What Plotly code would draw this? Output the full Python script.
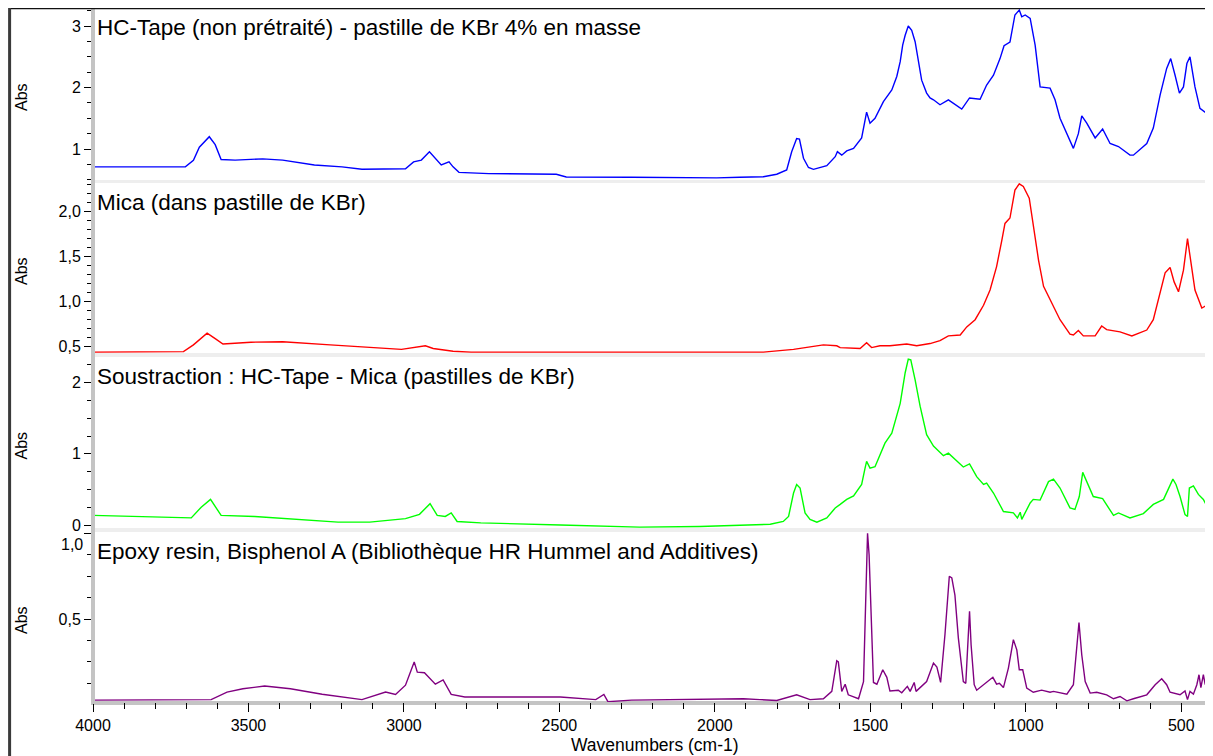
import plotly.graph_objects as go

# ---------------- data ----------------
wn_tape = [4000, 3837, 3703, 3677, 3658, 3626, 3607, 3588, 3543, 3454, 3390, 3288, 3199, 3135,
           2995, 2969, 2944, 2918, 2899, 2880, 2855, 2842, 2823, 2727, 2510, 2478, 2268, 2048,
           1994, 1920, 1844, 1801, 1769, 1753, 1737, 1728, 1715, 1699, 1683, 1640, 1613, 1606,
           1592, 1576, 1554, 1528, 1517, 1512, 1501, 1485, 1458, 1431, 1415, 1404, 1396, 1388,
           1378, 1367, 1356, 1345, 1335, 1319, 1308, 1297, 1276, 1249, 1206, 1181, 1147, 1126,
           1104, 1083, 1070, 1051, 1035, 1021, 1013, 1002, 986, 970, 963, 954, 922, 906, 890,
           868, 847, 831, 820, 804, 777, 753, 729, 702, 665, 654, 611, 590, 568, 547, 534, 520,
           506, 493, 482, 472, 456, 440, 418, 410, 398]
abs_tape = [0.71, 0.71, 0.71, 0.815, 1.03, 1.20, 1.07, 0.83, 0.82, 0.84, 0.82, 0.74, 0.71, 0.67,
            0.68, 0.79, 0.82, 0.955, 0.85, 0.74, 0.79, 0.71, 0.62, 0.60, 0.59, 0.545, 0.54, 0.53,
            0.53, 0.54, 0.55, 0.59, 0.66, 0.956, 1.17, 1.16, 0.85, 0.70, 0.67, 0.73, 0.875, 0.956,
            0.90, 0.97, 1.01, 1.18, 1.50, 1.60, 1.42, 1.50, 1.77, 1.96, 2.18, 2.42, 2.69, 2.85,
            3.00, 2.93, 2.745, 2.39, 2.12, 1.91, 1.83, 1.80, 1.72, 1.80, 1.65, 1.83, 1.81, 2.04,
            2.20, 2.47, 2.68, 2.74, 3.18, 3.26, 3.15, 3.18, 3.125, 2.69, 2.37, 2.01, 1.99, 1.80,
            1.50, 1.25, 1.01, 1.25, 1.54, 1.42, 1.18, 1.325, 1.09, 1.04, 0.90, 0.90, 1.09, 1.34,
            1.88, 2.31, 2.47, 2.20, 1.91, 2.01, 2.39, 2.50, 2.01, 1.66, 1.58, 1.71, 1.45]

wn_mica = [4000, 3709, 3677, 3633, 3607, 3582, 3492, 3390, 3237, 3008, 2931, 2906, 2842, 2784,
           2048, 1844, 1747, 1651, 1608, 1597, 1533, 1512, 1496, 1469, 1437, 1383, 1351, 1308,
           1276, 1249, 1211, 1190, 1163, 1136, 1115, 1094, 1077, 1067, 1051, 1035, 1021, 1008,
           989, 976, 959, 943, 922, 890, 858, 847, 831, 815, 777, 756, 740, 697, 659, 611, 590,
           568, 552, 536, 523, 509, 493, 480, 470, 456, 434, 418, 407, 398]
abs_mica = [0.44, 0.445, 0.52, 0.65, 0.59, 0.53, 0.55, 0.555, 0.52, 0.47, 0.51, 0.48, 0.45, 0.44,
            0.44, 0.44, 0.47, 0.52, 0.51, 0.49, 0.48, 0.545, 0.49, 0.51, 0.51, 0.53, 0.51, 0.535,
            0.567, 0.62, 0.63, 0.72, 0.80, 0.96, 1.13, 1.39, 1.685, 1.87, 1.93, 2.24, 2.31, 2.28,
            2.15, 1.87, 1.46, 1.17, 1.02, 0.80, 0.64, 0.63, 0.68, 0.62, 0.62, 0.73, 0.69, 0.665,
            0.62, 0.685, 0.80, 1.09, 1.32, 1.38, 1.22, 1.11, 1.35, 1.70, 1.46, 1.13, 0.93, 0.96,
            1.05, 0.90]

wn_sub = [4000, 3684, 3652, 3622, 3588, 3480, 3212, 3110, 2995, 2950, 2916, 2893, 2867, 2848,
          2829, 2753, 2497, 2242, 2048, 1881, 1822, 1780, 1763, 1747, 1737, 1726, 1710, 1694,
          1672, 1640, 1613, 1597, 1576, 1554, 1528, 1517, 1512, 1501, 1485, 1453, 1431, 1404,
          1388, 1378, 1370, 1356, 1340, 1319, 1297, 1265, 1249, 1201, 1181, 1158, 1136, 1126,
          1104, 1072, 1040, 1027, 1018, 1013, 1002, 986, 976, 954, 927, 911, 890, 858, 842, 828,
          817, 804, 783, 753, 718, 702, 665, 622, 590, 557, 527, 517, 504, 488, 480, 474, 461,
          445, 429, 418, 410, 402, 398]
abs_sub = [0.135, 0.10, 0.25, 0.36, 0.135, 0.12, 0.04, 0.04, 0.09, 0.15, 0.30, 0.135, 0.12, 0.17,
           0.05, 0.03, 0.0, -0.03, -0.02, 0.0, 0.01, 0.05, 0.12, 0.45, 0.57, 0.52, 0.17, 0.08,
           0.04, 0.10, 0.24, 0.29, 0.36, 0.41, 0.57, 0.80, 0.895, 0.80, 0.82, 1.15, 1.29, 1.71,
           2.14, 2.33, 2.32, 2.04, 1.67, 1.27, 1.11, 0.975, 1.01, 0.815, 0.86, 0.68, 0.57, 0.59,
           0.45, 0.19, 0.17, 0.10, 0.18, 0.08, 0.17, 0.31, 0.36, 0.35, 0.61, 0.645, 0.52, 0.24,
           0.22, 0.40, 0.74, 0.61, 0.40, 0.37, 0.135, 0.17, 0.10, 0.16, 0.29, 0.36, 0.645, 0.57,
           0.40, 0.145, 0.12, 0.52, 0.55, 0.43, 0.36, 0.27, 0.36, 0.29, 0.32]

wn_epoxy = [4000, 3620, 3569, 3518, 3448, 3365, 3263, 3135, 3059, 3027, 2995, 2967, 2957, 2934,
            2899, 2874, 2848, 2804, 2497, 2383, 2357, 2344, 2268, 2048, 1908, 1855, 1801, 1737,
            1694, 1651, 1624, 1608, 1603, 1592, 1581, 1571, 1538, 1522, 1515, 1509, 1504, 1499,
            1490, 1479, 1460, 1447, 1437, 1410, 1399, 1381, 1372, 1359, 1353, 1319, 1297, 1286,
            1274, 1260, 1246, 1238, 1228, 1217, 1201, 1193, 1187, 1181, 1176, 1166, 1158, 1131,
            1106, 1094, 1085, 1072, 1056, 1040, 1029, 1021, 1010, 997, 976, 949, 922, 911, 868,
            847, 836, 829, 820, 809, 793, 772, 740, 718, 697, 675, 654, 611, 584, 563, 547, 536,
            504, 488, 480, 472, 461, 450, 443, 437, 429, 423, 416, 410, 405, 398]
abs_epoxy = [0.027, 0.03, 0.074, 0.093, 0.109, 0.093, 0.061, 0.03, 0.074, 0.06, 0.114, 0.25, 0.19,
             0.187, 0.12, 0.145, 0.06, 0.045, 0.045, 0.03, 0.06, 0.018, 0.027, 0.03, 0.035, 0.03,
             0.025, 0.058, 0.03, 0.035, 0.078, 0.257, 0.25, 0.078, 0.12, 0.058, 0.035, 0.135,
             0.593, 1.0, 0.875, 0.564, 0.13, 0.12, 0.204, 0.16, 0.08, 0.085, 0.07, 0.107, 0.078,
             0.13, 0.078, 0.135, 0.243, 0.22, 0.13, 0.41, 0.75, 0.74, 0.64, 0.39, 0.135, 0.125,
             0.37, 0.545, 0.35, 0.117, 0.085, 0.125, 0.16, 0.12, 0.125, 0.1, 0.214, 0.38, 0.32,
             0.204, 0.204, 0.097, 0.073, 0.085, 0.073, 0.078, 0.062, 0.117, 0.33, 0.48, 0.29,
             0.135, 0.068, 0.073, 0.058, 0.035, 0.048, 0.023, 0.035, 0.058, 0.117, 0.152, 0.117,
             0.073, 0.058, 0.08, 0.03, 0.078, 0.062, 0.117, 0.175, 0.1, 0.175, 0.117, 0.224,
             0.146, 0.27, 0.30]

panel_titles = ["HC-Tape (non prétraité) - pastille de KBr 4% en masse",
                "Mica (dans pastille de KBr)",
                "Soustraction : HC-Tape - Mica (pastilles de KBr)",
                "Epoxy resin, Bisphenol A (Bibliothèque HR Hummel and Additives)"]
x_tickvals = [4000, 3500, 3000, 2500, 2000, 1500, 1000, 500]
x_ticktext = ["4000", "3500", "3000", "2500", "2000", "1500", "1000", "500"]
y1_tickvals, y1_ticktext = [1, 2, 3], ["1", "2", "3"]
y2_tickvals, y2_ticktext = [0.5, 1.0, 1.5, 2.0], ["0,5", "1,0", "1,5", "2,0"]
y3_tickvals, y3_ticktext = [0, 1, 2], ["0", "1", "2"]
y4_tickvals, y4_ticktext = [0.5, 1.0], ["0,5", ""]

# ---------------- layout geometry ----------------
# the page body adds an 8 px offset; work in reference (window) pixels
OFF = 8
W, H = 1213 - OFF, 756 - OFF
PLOT_L, PLOT_T, PLOT_B = 93, 8, 702           # window pixels
ML, MT, MR = PLOT_L - OFF, PLOT_T - OFF, 0
MB = H - (PLOT_B - OFF)
PH = H - MT - MB
PW = W - ML - MR
FONT = "Liberation Sans, Arial, sans-serif"


def py(ywin):
    return (PLOT_B - ywin) / PH


def px(xwin):
    return (xwin - PLOT_L) / PW


panels = [(8, 180), (183, 353), (357, 528), (532, 702)]
yranges = [[0.496, 3.293], [0.43, 2.319], [-0.042, 2.361], [0.016, 1.008]]
minors = [0.25, 0.1, 0.25, 0.125]
ticks = [(y1_tickvals, y1_ticktext), (y2_tickvals, y2_ticktext),
         (y3_tickvals, y3_ticktext), (y4_tickvals, y4_ticktext)]

fig = go.Figure()
series = [(wn_tape, abs_tape, "#0000ff"), (wn_mica, abs_mica, "#ff0000"),
          (wn_sub, abs_sub, "#00ff00"), (wn_epoxy, abs_epoxy, "#800080")]
for i, (xs, ys, col) in enumerate(series):
    fig.add_trace(go.Scatter(x=xs, y=ys, mode="lines", line=dict(color=col, width=1.4),
                             xaxis="x", yaxis="y" if i == 0 else f"y{i+1}",
                             hoverinfo="skip", showlegend=False, cliponaxis=False))

layout = dict(
    width=W, height=H, margin=dict(l=ML, r=MR, t=MT, b=MB, pad=0),
    paper_bgcolor="white", plot_bgcolor="white", separators=", ",
    hovermode=False, showlegend=False,
    font=dict(family=FONT, color="black"),
    xaxis=dict(domain=[0, 1], range=[4000, 398], anchor="y4", showgrid=False, zeroline=False,
               showline=False, tickmode="array", tickvals=x_tickvals, ticktext=x_ticktext,
               ticks="outside", ticklen=9, tickwidth=1, tickcolor="black",
               tickfont=dict(size=16, family=FONT),
               minor=dict(tickmode="linear", tick0=0, dtick=100, ticks="outside", ticklen=6,
                          tickwidth=1, tickcolor="black")),
)
for i, ((top, bot), yr, mn, (tv, tt)) in enumerate(zip(panels, yranges, minors, ticks)):
    name = "yaxis" if i == 0 else f"yaxis{i+1}"
    layout[name] = dict(domain=[max(0, py(bot)), min(1, py(top))], range=yr, anchor="x",
                        showgrid=False, zeroline=False, showline=False, tickmode="array",
                        tickvals=tv, ticktext=tt, ticks="outside", ticklen=8, tickwidth=1,
                        tickcolor="black", tickfont=dict(size=16, family=FONT),
                        minor=dict(tickmode="linear", tick0=0, dtick=mn, ticks="outside",
                                   ticklen=5, tickwidth=1, tickcolor="black"))
fig.update_layout(**layout)

shapes = []
# light separators between panels
for (a, b) in [(180, 183), (353, 357), (528, 532)]:
    shapes.append(dict(type="rect", xref="paper", yref="paper", x0=px(95), x1=1,
                       y0=py(b), y1=py(a), fillcolor="#eeeeee", line=dict(width=0),
                       layer="above"))
# gray axis bars
shapes.append(dict(type="line", xref="paper", yref="paper", x0=0, x1=0, y0=py(704), y1=py(8),
                   line=dict(color="#c4c4c4", width=4), layer="above"))
shapes.append(dict(type="line", xref="paper", yref="paper", x0=px(91), x1=1, y0=py(703),
                   y1=py(703), line=dict(color="#c4c4c4", width=4), layer="below"))
# outer frame lines (top rule and left rule)
shapes.append(dict(type="line", xref="paper", yref="paper", x0=px(9), x1=1, y0=py(8.6),
                   y1=py(8.6), line=dict(color="#111111", width=1.5), layer="above"))
shapes.append(dict(type="line", xref="paper", yref="paper", x0=px(9.6), x1=px(9.6),
                   y0=py(8), y1=py(756), line=dict(color="#3a3a3a", width=3), layer="above"))
fig.update_layout(shapes=shapes)

ann = []
for (top, bot), title in zip(panels, panel_titles):
    ann.append(dict(text=title, xref="paper", yref="paper", x=px(95), y=py(top + 19),
                    xanchor="left", yanchor="middle", showarrow=False,
                    font=dict(size=22.5, family=FONT, color="black")))
    ann.append(dict(text="Abs", xref="paper", yref="paper", x=px(21), y=py((top + bot) / 2 + 3),
                    xanchor="center", yanchor="middle", textangle=-90, showarrow=False,
                    font=dict(size=16, family=FONT, color="black")))
ann.append(dict(text="1,0", xref="paper", yref="paper", x=px(85), y=py(544),
                xanchor="right", yanchor="middle", showarrow=False,
                font=dict(size=16, family=FONT, color="black")))
ann.append(dict(text="Wavenumbers (cm-1)", xref="paper", yref="paper", x=px(655), y=py(745),
                xanchor="center", yanchor="middle", showarrow=False,
                font=dict(size=17.5, family=FONT, color="black")))
fig.update_layout(annotations=ann)

fig.write_html("out.html")
